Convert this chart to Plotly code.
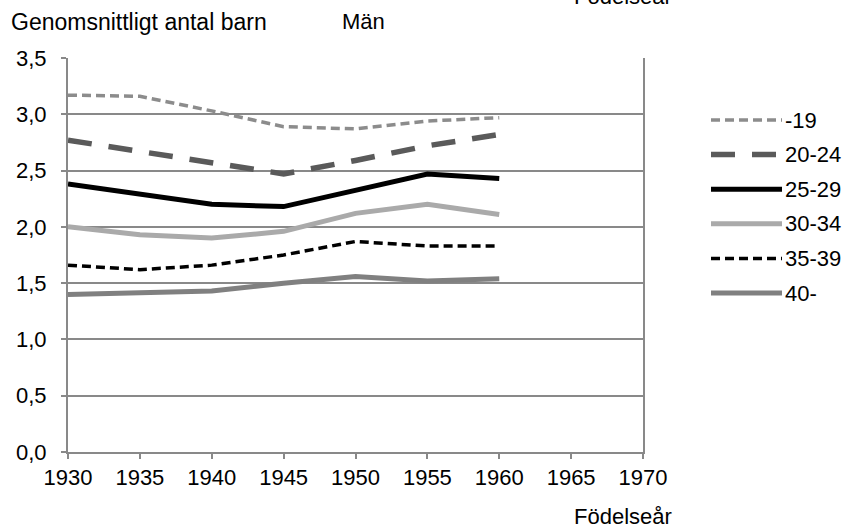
import plotly.graph_objects as go

years = [1930, 1935, 1940, 1945, 1950, 1955, 1960]
groups = ["-19", "20-24", "25-29", "30-34", "35-39", "40-"]
v_19 = [3.17, 3.16, 3.03, 2.89, 2.87, 2.94, 2.97]
v_20_24 = [2.77, 2.67, 2.57, 2.47, 2.59, 2.72, 2.82]
v_25_29 = [2.38, 2.29, 2.20, 2.18, 2.33, 2.47, 2.43]
v_30_34 = [2.00, 1.93, 1.90, 1.96, 2.12, 2.20, 2.11]
v_35_39 = [1.66, 1.62, 1.66, 1.75, 1.87, 1.83, 1.83]
v_40 = [1.40, 1.42, 1.43, 1.50, 1.56, 1.52, 1.54]
x_ticks = [1930, 1935, 1940, 1945, 1950, 1955, 1960, 1965, 1970]
y_ticks = [0, 0.5, 1, 1.5, 2, 2.5, 3, 3.5]
y_labels = ["0,0", "0,5", "1,0", "1,5", "2,0", "2,5", "3,0", "3,5"]

series = [v_19, v_20_24, v_25_29, v_30_34, v_35_39, v_40]
styles = [
    dict(color="#8c8c8c", width=3.5, dash="9px,5px"),
    dict(color="#5a5a5a", width=5.5, dash="24px,17px"),
    dict(color="#000000", width=5, dash="solid"),
    dict(color="#aaaaaa", width=5, dash="solid"),
    dict(color="#000000", width=3.5, dash="9px,5px"),
    dict(color="#808080", width=5, dash="solid"),
]

# plot area in pixels
L, R, T, B = 68, 643, 58, 452
W, H = 851, 524


def px(x):
    return (x - L) / (R - L)


def py(y):
    return (B - y) / (B - T)


FONT = "Liberation Sans, Arial, sans-serif"
FS = 22

fig = go.Figure()
for name, vals, st in zip(groups, series, styles):
    fig.add_trace(go.Scatter(x=years, y=vals, name=name, mode="lines",
                             line=st, showlegend=False, hoverinfo="skip"))

fig.update_layout(
    width=W, height=H,
    margin=dict(l=L, r=W - R, t=T, b=H - B),
    paper_bgcolor="white", plot_bgcolor="white",
    font=dict(family=FONT, size=FS, color="black"),
    xaxis=dict(range=[1930, 1970], tickvals=x_ticks, showgrid=False,
               showline=True, linecolor="#898989", linewidth=2,
               ticks="outside", ticklen=5, tickwidth=2, tickcolor="#898989",
               zeroline=False, tickfont=dict(size=FS)),
    yaxis=dict(range=[0, 3.5], tickvals=y_ticks, ticktext=y_labels,
               showgrid=True, gridcolor="#898989", gridwidth=2,
               showline=True, linecolor="#898989", linewidth=2, mirror=True,
               ticks="outside", ticklen=5, tickwidth=2, tickcolor="#898989",
               ticklabelstandoff=10, automargin=False,
               zeroline=False, tickfont=dict(size=FS)),
)

# legend drawn by hand so the sample lines are as long as in the original
for i, (name, st) in enumerate(zip(groups, styles)):
    yc = 120 + 34.6 * i
    fig.add_shape(type="line", xref="paper", yref="paper",
                  x0=px(711), x1=px(782), y0=py(yc), y1=py(yc),
                  line=dict(color=st["color"], width=st["width"], dash=st["dash"]))
    fig.add_annotation(text=name, xref="paper", yref="paper",
                       x=px(783), y=py(yc), xanchor="left", yanchor="middle",
                       showarrow=False, font=dict(size=FS))

fig.add_annotation(text="Genomsnittligt antal barn", xref="paper", yref="paper",
                   x=px(9), y=py(22), xanchor="left", yanchor="middle",
                   showarrow=False, font=dict(size=23))
fig.add_annotation(text="Män", xref="paper", yref="paper",
                   x=px(363), y=py(22), xanchor="center", yanchor="middle",
                   showarrow=False, font=dict(size=FS))
fig.add_annotation(text="Födelseår", xref="paper", yref="paper",
                   x=px(674), y=py(516), xanchor="right", yanchor="middle",
                   showarrow=False, font=dict(size=FS))
fig.add_annotation(text="Födelseår", xref="paper", yref="paper",
                   x=px(674), y=py(-3), xanchor="right", yanchor="middle",
                   showarrow=False, font=dict(size=FS))

fig.write_html("out.html", config={"displayModeBar": False},
               post_script="document.body.style.margin='0';")
